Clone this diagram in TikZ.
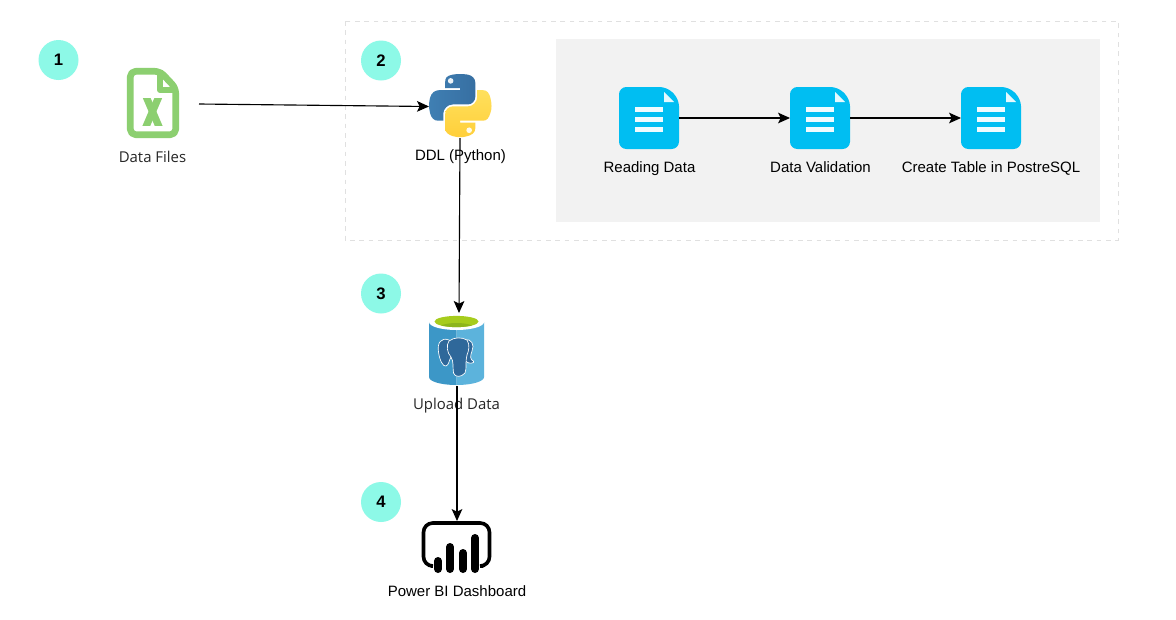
\documentclass[tikz,border=0pt]{standalone}
\usepackage{fontspec}
\setmainfont{Liberation Sans}
\newfontfamily\opensans{Open Sans}
\usetikzlibrary{arrows.meta}
\definecolor{badge}{HTML}{8DF9E7}
\definecolor{docblue}{HTML}{00BEF2}
\definecolor{xlgreen}{HTML}{8CCF70}
\definecolor{pgdark}{HTML}{2F689A}
\definecolor{pyblueA}{HTML}{3F7FB3}
\definecolor{pyblueB}{HTML}{376FA2}
\definecolor{pyyelA}{HTML}{FFE05C}
\definecolor{pyyelB}{HTML}{FFCF3A}
\definecolor{cylL}{HTML}{3C97C7}
\definecolor{cylR}{HTML}{5CB3DC}
\definecolor{cylG}{HTML}{A6CC1C}
\definecolor{cylGd}{HTML}{8DB51B}
\tikzset{
  numbadge/.style={circle,fill=badge,minimum size=40*0.75pt,inner sep=0pt,font=\bfseries\fontsize{12.5pt}{14pt}\selectfont},
  conn/.style={draw=black,line width=0.85pt,-{Stealth[length=9pt,width=8pt,inset=2pt]}},
  anchorbox/.style={draw=none,fill=none,inner sep=0pt,outer sep=0pt},
  arial/.style={anchor=base,font=\fontsize{11.25pt}{13pt}\selectfont,text=black,inner sep=0pt},
  segoe/.style={anchor=base,font=\opensans\fontsize{11.2pt}{13pt}\selectfont,text=black!85,inner sep=0pt},
  docicon/.style={anchorbox,minimum width=60*0.75pt,minimum height=62*0.75pt}
}
\newcommand{\docglyph}[1]{%
  \fill[docblue,rounded corners=5.5pt] (#1-30,87) -- (#1+18,87) -- (#1+30,99) -- (#1+30,149) -- (#1-30,149) -- cycle;
  \fill[white!90!docblue] (#1+15,92) -- (#1+15,102) -- (#1+25,102) -- cycle;
  \fill[white!94!docblue] (#1-14,107) rectangle (#1+14,112);
  \fill[white!94!docblue] (#1-14,117) rectangle (#1+14,122);
  \fill[white!94!docblue] (#1-14,127) rectangle (#1+14,132);
}
\begin{document}
\begin{tikzpicture}[x=0.75pt,y=-0.75pt]
\useasboundingbox (0,0) rectangle (1176,619);
\fill[white] (0,0) rectangle (1176,619);
% group frames
\draw[draw=black!12,line width=0.75pt,dash pattern=on 3.5pt off 3.5pt] (345,21) rectangle (1118,240);
\fill[black!5] (556,39) rectangle (1100,222);
% badges
\node[numbadge] (n1) at (58.5,60) {1};
\node[numbadge] (n2) at (381,60.5) {2};
\node[numbadge] (n3) at (381,293.5) {3};
\node[numbadge] (n4) at (381,502) {4};
% excel file icon
\draw[xlgreen,line width=5pt,line join=round,rounded corners=4pt] (130.3,71.3) -- (160,71.3) -- (175.7,88) -- (175.7,134.7) -- (130.3,134.7) -- cycle;
\draw[xlgreen,line width=4.4pt,line join=round] (160,70) -- (160,90) -- (176,90);
\begin{scope}
\clip (140,98) rectangle (165,125);
\draw[xlgreen,line width=5.4pt] (145,94) -- (160,129);
\draw[xlgreen,line width=5.4pt] (160,94) -- (145,129);
\end{scope}
\node[anchorbox,minimum width=72*0.75pt,minimum height=70*0.75pt] (dfiles) at (163,104) {};
\node[segoe] (dfilesl) at (152.5,162) {Data Files};
% python logo
\begin{scope}[shift={(429,74)},x=0.4219pt,y=-0.4219pt]
\shade[left color=pyblueA,right color=pyblueB]
 (54.92,0) .. controls (50.34,0.02) and (45.96,0.41) .. (42.11,1.09)
 .. controls (30.76,3.09) and (28.7,7.29) .. (28.7,15.03)
 -- (28.7,25.25) -- (55.5,25.25) -- (55.5,28.66) -- (18.64,28.66)
 .. controls (10.86,28.66) and (4.03,33.34) .. (1.9,42.25)
 .. controls (-0.56,52.47) and (-0.67,58.84) .. (1.9,69.5)
 .. controls (3.81,77.44) and (8.36,83.09) .. (16.14,83.09)
 -- (25.34,83.09) -- (25.34,70.84)
 .. controls (25.34,61.99) and (33,54.19) .. (42.11,54.19)
 -- (68.88,54.19)
 .. controls (76.33,54.19) and (82.28,48.05) .. (82.28,40.56)
 -- (82.28,15.03)
 .. controls (82.28,7.76) and (76.15,2.3) .. (68.88,1.09)
 .. controls (64.28,0.32) and (59.5,-0.02) .. (54.92,0) -- cycle;
\fill[white!90!pyblueA] (38.5,12.2) circle (5);
\shade[top color=pyyelA,bottom color=pyyelB]
 (85.64,28.66) -- (85.64,40.56)
 .. controls (85.64,49.79) and (77.82,57.56) .. (68.88,57.56)
 -- (42.11,57.56)
 .. controls (34.78,57.56) and (28.7,63.84) .. (28.7,71.19)
 -- (28.7,96.72)
 .. controls (28.7,103.99) and (35.02,108.26) .. (42.11,110.34)
 .. controls (50.6,112.84) and (58.74,113.29) .. (68.88,110.34)
 .. controls (75.62,108.39) and (82.28,104.47) .. (82.28,96.72)
 -- (82.28,86.5) -- (55.5,86.5) -- (55.5,83.09) -- (95.68,83.09)
 .. controls (103.47,83.09) and (106.37,77.66) .. (109.08,69.5)
 .. controls (111.88,61.1) and (111.76,53.02) .. (109.08,42.25)
 .. controls (107.16,34.5) and (103.5,28.66) .. (95.68,28.66) -- cycle;
\fill[white!88!pyyelA] (71.4,100) circle (5);
\end{scope}
\node[anchorbox,minimum width=62*0.75pt,minimum height=63*0.75pt] (python) at (460,106.5) {};
\node[arial] (pythonl) at (460.5,160) {DDL (Python)};
% doc icons and grey group
\docglyph{649}
\docglyph{820}
\docglyph{991}
\node[docicon] (d1) at (649,118) {};
\node[docicon] (d2) at (820,118) {};
\node[docicon] (d3) at (991,118) {};
\node[arial] (d1l) at (649.5,172) {Reading Data};
\node[arial] (d2l) at (820.5,172) {Data Validation};
\node[arial] (d3l) at (991,172) {Create Table in PostreSQL};
% database
\fill[cylL] (429,322) -- (429,377) .. controls (429,381.5) and (441,385) .. (456.5,385) -- (456.5,322) -- cycle;
\fill[cylR] (456.5,322) -- (456.5,385) .. controls (472,385) and (484,381.5) .. (484,377) -- (484,322) -- cycle;
\fill[white] (456.5,322) ellipse[x radius=27.5,y radius=8];
\fill[cylG] (456.5,321.5) ellipse[x radius=22,y radius=5.6];
\begin{scope}
\clip (456.5,321.5) ellipse[x radius=22,y radius=5.6];
\fill[cylGd] (456.5,329.5) ellipse[x radius=20,y radius=6.5];
\end{scope}
% elephant
\begin{scope}[draw=white,fill=pgdark,line width=0.5pt,line join=round]
\filldraw (449,340) .. controls (441,337) and (437,343) .. (438.5,352) .. controls (439.5,360) and (443,367) .. (446,366) .. controls (449,365) and (449,360) .. (451,357) -- (455,345) -- cycle;
\filldraw (465,340) .. controls (471,338) and (475,345) .. (472,351) .. controls (470,356) and (470,360) .. (473.5,361) -- (473.5,362.5) .. controls (470,364) and (467,363) .. (465,360) -- (461,345) -- cycle;
\filldraw (449,341) .. controls (454,337) and (462,337) .. (467,340) .. controls (470,345) and (469,350) .. (467,355) .. controls (465,362) and (467,368) .. (465,373) .. controls (461,377.5) and (455,377.5) .. (453.5,373) .. controls (452.5,367) and (454,362) .. (451,357) .. controls (447,353) and (446,345) .. (449,341) -- cycle;
\end{scope}
\node[anchorbox,minimum width=60*0.75pt,minimum height=73*0.75pt] (db) at (459,349.5) {};
\node[segoe] (dbl) at (456.5,409) {Upload Data};
% power bi
\draw[black,line width=2.7pt,line cap=round,rounded corners=7pt] (431,566) -- (423.5,566) -- (423.5,523) -- (489.5,523) -- (489.5,566) -- (483,566);
\foreach \xc/\yt in {438/557,450/543,463/549,475/534}{
  \draw[black,line width=6pt,line cap=round] (\xc,\yt+4) -- (\xc,569);
}
\node[anchorbox,minimum width=70*0.75pt,minimum height=50*0.75pt] (pbi) at (457,546) {};
\node[arial] (pbil) at (457,596) {Power BI Dashboard};
% connectors
\draw[conn] (dfiles.east) -- (python.west);
\draw[conn] (python.south) -- (db.north);
\draw[conn] (db.south -| pbi.north) -- (pbi.north);
\draw[conn] (d1) -- (d2);
\draw[conn] (d2) -- (d3);
\end{tikzpicture}
\end{document}
